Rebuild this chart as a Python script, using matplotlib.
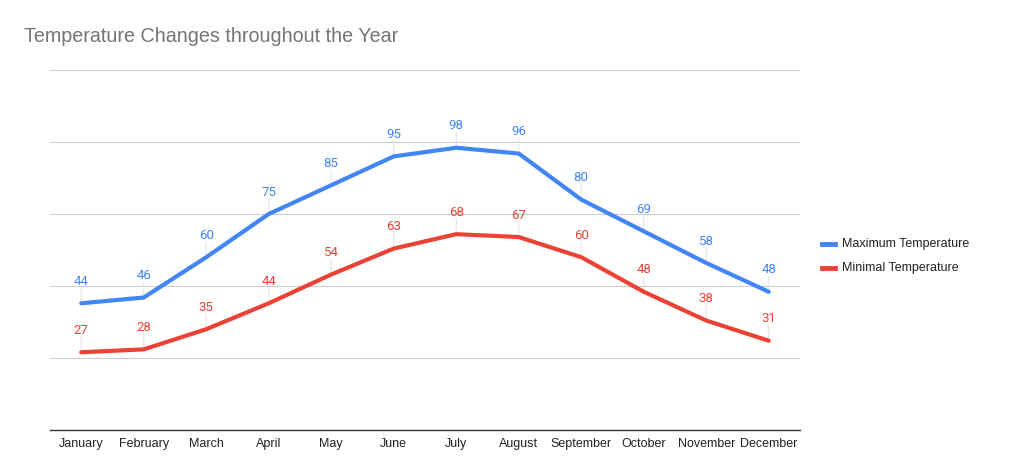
import matplotlib
matplotlib.use('Agg')
import matplotlib.pyplot as plt
import numpy as np

plt.rcParams['font.family'] = ['Liberation Sans', 'DejaVu Sans']

months = ['January', 'February', 'March', 'April', 'May', 'June',
          'July', 'August', 'September', 'October', 'November', 'December']
max_temp = [44, 46, 60, 75, 85, 95, 98, 96, 80, 69, 58, 48]
min_temp = [27, 28, 35, 44, 54, 63, 68, 67, 60, 48, 38, 31]

blue = '#4285F4'
red = '#EA4335'

fig = plt.figure(figsize=(10.18, 4.74), dpi=100)
ax = fig.add_axes([50 / 1018, 44 / 474, 750 / 1018, 360 / 474])

x = np.arange(len(months))
ax.plot(x, max_temp, color=blue, lw=3, solid_capstyle='round', zorder=3)
ax.plot(x, min_temp, color=red, lw=3, solid_capstyle='round', zorder=3)

# data labels with small leader lines
for series, col in [(max_temp, blue), (min_temp, red)]:
    for i, v in enumerate(series):
        ax.annotate(str(v), (i, v), xytext=(0, 11), textcoords='offset points',
                    ha='center', va='bottom', fontsize=9.5, color=col,
                    family=['Roboto', 'DejaVu Sans'])
        ax.annotate('', (i, v), xytext=(0, 11), textcoords='offset points',
                    arrowprops=dict(arrowstyle='-', color='#e4e4e4', lw=0.8,
                                    shrinkA=0, shrinkB=0), zorder=1)

ax.set_xlim(-0.5, 11.5)
ax.set_ylim(0, 125)
ax.set_yticks([25, 50, 75, 100, 125])
ax.yaxis.grid(True, color='#cccccc', lw=0.8)
ax.tick_params(axis='y', length=0, labelleft=False)
ax.set_xticks(x)
ax.set_xticklabels(months, fontsize=9, color='#222222')
ax.tick_params(axis='x', length=0, pad=6)
for s in ['top', 'right', 'left']:
    ax.spines[s].set_visible(False)
ax.spines['bottom'].set_color('#333333')
ax.spines['bottom'].set_linewidth(1)
ax.set_axisbelow(True)

fig.text(24 / 1018, 1 - 37 / 474, 'Temperature Changes throughout the Year',
         fontsize=14.2, color='#757575', va='center', ha='left')

# legend
for yy, col, lab in [(244, blue, 'Maximum Temperature'), (268, red, 'Minimal Temperature')]:
    fig.add_artist(plt.Line2D([822 / 1018, 835 / 1018], [1 - yy / 474] * 2,
                              color=col, lw=3.5, transform=fig.transFigure))
    fig.text(842 / 1018, 1 - yy / 474, lab, fontsize=9, color='#222222',
             va='center', ha='left')

fig.savefig('out.png', dpi=100, facecolor='white')
